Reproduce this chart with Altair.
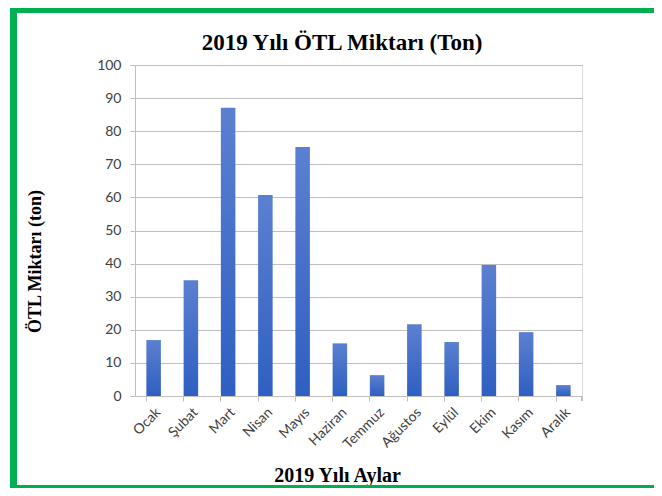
import altair as alt
import pandas as pd

months = ["Ocak", "Şubat", "Mart", "Nisan", "Mayıs", "Haziran", "Temmuz",
          "Ağustos", "Eylül", "Ekim", "Kasım", "Aralık"]
values = [16.9, 35.0, 87.1, 60.7, 75.2, 15.9, 6.3, 21.7, 16.3, 39.6, 19.3, 3.3]
y_ticks = [0, 10, 20, 30, 40, 50, 60, 70, 80, 90, 100]
chart_title = ["2019 Yılı ÖTL Miktarı (Ton)"]

df = pd.DataFrame({"ay": months, "miktar": values})
tdf = pd.DataFrame({"t": chart_title})

W, H = 447, 331
PAD = {"left": 127, "top": 57, "right": 72, "bottom": 92}
GREEN = "#00b050"
GRID = "#bfbfbf"
LABEL = "#404040"

grad = alt.LinearGradient(
    gradient="linear",
    stops=[alt.GradientStop(color="#5b80d1", offset=0),
           alt.GradientStop(color="#2e5fc1", offset=1)],
    x1=0, x2=0, y1=0, y2=1,
)

bars = alt.Chart(df).mark_bar(color=grad).encode(
    x=alt.X("ay:N", sort=months,
            scale=alt.Scale(paddingInner=0.61, paddingOuter=0.305),
            axis=alt.Axis(title="2019 Yılı Aylar", labelAngle=-45,
                          labelFont="Lato", labelFontSize=14, labelColor=LABEL,
                          labelPadding=4, bandPosition=0, tickSize=5,
                          tickColor=GRID, domainColor=GRID,
                          titleFont="Liberation Serif", titleFontSize=20,
                          titleFontWeight="bold", titleColor="#000000",
                          titleX=202, titleY=85, titleBaseline="alphabetic",
                          titleAlign="center")),
    y=alt.Y("miktar:Q",
            scale=alt.Scale(domain=[0, 100], nice=False),
            axis=alt.Axis(title="ÖTL Miktarı (ton)", values=y_ticks,
                          labelFont="Lato", labelFontSize=14, labelColor=LABEL,
                          labelPadding=9, tickSize=5, tickColor=GRID,
                          domainColor=GRID, gridColor=GRID,
                          titleFont="Liberation Serif", titleFontSize=18,
                          titleFontWeight="bold", titleColor="#000000",
                          titleAngle=270, titleX=-100, titleY=196,
                          titleAlign="center", titleBaseline="middle")),
)

title_mark = alt.Chart(tdf).mark_text(
    font="Liberation Serif", fontSize=23, fontWeight="bold", color="#000000",
    align="center", baseline="alphabetic",
).encode(text="t:N", x=alt.value(207), y=alt.value(-15))

end_tick = alt.Chart(df).mark_rule(color=GRID).encode(
    x=alt.value(W), y=alt.value(H), y2=alt.value(H + 5))

left_border = alt.Chart(df).mark_rule(color=GREEN, strokeWidth=7).encode(
    x=alt.value(-121.5), y=alt.value(-60), y2=alt.value(440))
top_border = alt.Chart(df).mark_rule(color=GREEN, strokeWidth=8).encode(
    x=alt.value(-125), x2=alt.value(620), y=alt.value(-56))
bottom_border = alt.Chart(df).mark_rule(color=GREEN, strokeWidth=3).encode(
    x=alt.value(-125), x2=alt.value(620), y=alt.value(H + 90.5))

chart = alt.layer(bars, title_mark, end_tick, left_border, top_border,
                  bottom_border).properties(
    width=W, height=H,
    padding=PAD,
    autosize=alt.AutoSizeParams(type="none"),
).configure_view(stroke=None).configure(background="#ffffff")

chart.save("out.html", embed_options={"renderer": "svg", "actions": False})
